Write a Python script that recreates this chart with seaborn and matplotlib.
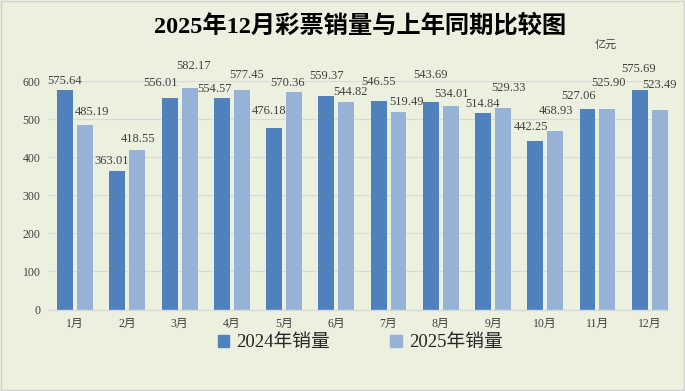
import matplotlib
matplotlib.use("Agg")
import matplotlib.pyplot as plt
import seaborn as sns
import pandas as pd
from matplotlib.patches import Rectangle

months = ["1月", "2月", "3月", "4月", "5月", "6月", "7月", "8月", "9月", "10月", "11月", "12月"]
sales_2024 = [575.64, 363.01, 556.01, 554.57, 476.18, 559.37, 546.55, 543.69, 514.84, 442.25, 527.06, 575.69]
sales_2025 = [485.19, 418.55, 582.17, 577.45, 570.36, 544.82, 519.49, 534.01, 529.33, 468.93, 525.90, 523.49]
series_names = ["2024年销量", "2025年销量"]
colors = ["#4F81BD", "#95B3D7"]
y_ticks = [0, 100, 200, 300, 400, 500, 600]

# label nudges (pixels) replicating the hand-placed data labels
dx_2024 = [-1, -6, -9, -7, -5.5, 0, 0, 0, -1, -4, -9, -1]
dy_2024 = [9, 10.3, 15, 9.3, 17.3, 20.7, 19, 27.3, 9.7, 14.3, 12.3, 21.3]
dx_2025 = [7, 1, 4, 5, -6, 4, 7.5, 1, 6, 0.5, 1, 0]
dy_2025 = [12.3, 11, 22, 15, 9, 10.3, 10, 12.3, 20.3, 20.3, 26.3, 25.3]

df = pd.DataFrame({
    "month": months * 2,
    "value": sales_2024 + sales_2025,
    "series": [series_names[0]] * 12 + [series_names[1]] * 12,
})

sns.set_theme(style="white")
fams = ["Liberation Serif", "Noto Sans CJK SC", "DejaVu Sans"]
plt.rcParams["font.family"] = fams

bg = "#EBF1DE"
fig = plt.figure(figsize=(6.85, 3.91), dpi=100, facecolor=bg)
ax = fig.add_axes([49 / 685, 0.2084, 619 / 685, 0.5844])
ax.set_facecolor(bg)

sns.barplot(data=df, x="month", y="value", hue="series", palette=colors,
            width=0.764, gap=0.2, ax=ax, legend=False, saturation=1, linewidth=0)

offsets = [(dx_2024, dy_2024), (dx_2025, dy_2025)]
for cont, (dxs, dys) in zip(ax.containers, offsets):
    for bar, dx, dy in zip(cont, dxs, dys):
        xc = bar.get_x() + bar.get_width() / 2
        h = bar.get_height()
        ax.annotate(f"{h:.2f}", (xc, h), xytext=(dx, dy), textcoords="offset pixels",
                    ha="center", va="center", fontsize=9, color="#404040",
                    annotation_clip=False)

ax.set_ylim(0, 600)
ax.set_yticks(y_ticks)
ax.set_xlim(-0.5, 11.35)
ax.yaxis.grid(True, color="#D9D9D9", linewidth=0.8)
ax.set_axisbelow(True)
for s in ["top", "right", "left"]:
    ax.spines[s].set_visible(False)
ax.spines["bottom"].set_color("#D9D9D9")
ax.spines["bottom"].set_linewidth(1)
ax.tick_params(axis="both", length=0, labelsize=8.5, colors="#404040")
ax.tick_params(axis="x", pad=6)
ax.tick_params(axis="y", pad=6)
ax.set_xlabel("")
ax.set_ylabel("")

fig.text(0.526, 0.933, "2025年12月彩票销量与上年同期比较图", ha="center", va="center",
         fontsize=17.5, fontweight="bold", color="#000000")
fig.text(0.885, 0.885, "亿元", ha="center", va="center", fontsize=8, color="#404040")

handles = [Rectangle((0, 0), 1, 1, color=c) for c in colors]
fig.legend(handles, series_names, loc="center", bbox_to_anchor=(0.526, 0.123),
           ncol=2, frameon=False, fontsize=13.5, handlelength=0.6, handleheight=0.6,
           columnspacing=3.2, handletextpad=0.4)

fig.patches.append(Rectangle((0.001, 0.002), 0.997, 0.996, transform=fig.transFigure,
                             fill=False, edgecolor="#D0D0D0", linewidth=1))

fig.savefig("out.png", dpi=100, facecolor=bg)
